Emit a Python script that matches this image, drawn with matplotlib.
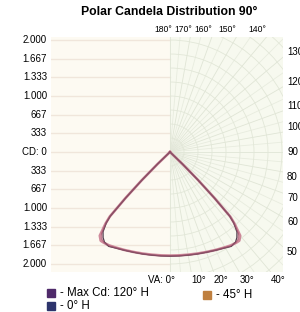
import numpy as np
import matplotlib
matplotlib.use("Agg")
import matplotlib.pyplot as plt
from matplotlib.patches import Rectangle, Circle

plt.rcParams['font.family'] = ['Liberation Sans', 'DejaVu Sans']

# vertical angles (deg from nadir) and candela values per plane
angles = [0, 5, 10, 15, 20, 25, 30, 33, 36, 38, 40, 42, 43, 44, 45, 46, 47, 50, 60, 70, 80, 90]
cd_max = [1850, 1853, 1862, 1878, 1900, 1930, 1965, 1990, 2005, 2010, 1950, 1720, 1580, 1150, 720, 320, 0, 0, 0, 0, 0, 0]
cd_0h = [1860, 1862, 1870, 1885, 1905, 1935, 1975, 2010, 1990, 1940, 1860, 1700, 1560, 1130, 700, 300, 0, 0, 0, 0, 0, 0]
cd_45h = [1855, 1858, 1866, 1882, 1902, 1932, 1970, 2000, 1998, 1975, 1900, 1710, 1570, 1140, 710, 310, 0, 0, 0, 0, 0, 0]

cd_ticks = [2000, 1667, 1333, 1000, 667, 333]
cd_labels = ["2.000", "1.667", "1.333", "1.000", "667", "333"]
top_angles = [180, 170, 160, 150, 140]
right_angles = [130, 120, 110, 100, 90, 80, 70, 60, 50]
bottom_angles = [10, 20, 30, 40]

series_names = ["- Max Cd: 120° H", "- 0° H", "- 45° H"]
legend_colors = ["#4f2a6a", "#2d346c", "#bf8040"]

PX = 17.86  # candela per pixel
x0, x1 = -2125, 2018
y0, y1 = -2143, 2054

fig = plt.figure(figsize=(3.0, 3.12), dpi=100)
ax = fig.add_axes([51 / 300, 1 - 272 / 312, 232 / 300, 235 / 312])
ax.set_xlim(x0, x1)
ax.set_ylim(y0, y1)
ax.axis("off")

# backgrounds
ax.add_patch(Rectangle((x0, y0), -x0, y1 - y0, color="#fdfaf2", zorder=0))
right_bg = Rectangle((0, y0), x1, y1 - y0, color="#f7f9ef", zorder=0)
ax.add_patch(right_bg)

# left half: horizontal lines
for v in cd_ticks:
    for s in (1, -1):
        ax.plot([x0, 0], [s * v, s * v], color="#f0e6db", lw=1.0, zorder=1)
ax.plot([x0, 0], [0, 0], color="#f0e6db", lw=1.0, zorder=1)

# right half: polar grid
for a in range(0, 181, 5):
    t = np.radians(a)
    ln, = ax.plot([0, 4000 * np.sin(t)], [0, -4000 * np.cos(t)],
                  color="#e8ecdf" if a % 10 else "#e0e5d6", lw=0.6, zorder=1)
    ln.set_clip_path(right_bg)
for r in range(250, 3100, 250):
    c = Circle((0, 0), r, fill=False, ec="#e2e7d8", lw=0.6, zorder=1)
    ax.add_patch(c)
    c.set_clip_path(right_bg)

# curves, mirrored on both sides
th = np.radians(angles)
styles = [("#c46e86", 1.9, 0.8), ("#4e3f4e", 0.9, 1.0), ("#a85570", 1.0, 0.7)]
for vals, (col, lw, al) in zip([cd_max, cd_0h, cd_45h], styles):
    r = np.array(vals, dtype=float)
    xs = np.concatenate([-r[::-1] * np.sin(th[::-1]), r * np.sin(th)])
    ys = np.concatenate([-r[::-1] * np.cos(th[::-1]), -r * np.cos(th)])
    ax.plot(xs, ys, color=col, lw=lw, alpha=al, zorder=3, solid_joinstyle="round")

fs = 7
# left candela labels
for v, lab in zip(cd_ticks, cd_labels):
    ax.text(x0 - 4 * PX, v, lab, ha="right", va="center", fontsize=fs, clip_on=False)
    ax.text(x0 - 4 * PX, -v, lab, ha="right", va="center", fontsize=fs, clip_on=False)
ax.text(x0 - 4 * PX, 0, "CD: 0", ha="right", va="center", fontsize=fs, clip_on=False)

# top angle labels
for a in top_angles:
    x = y1 * np.tan(np.radians(180 - a))
    shift = 2 * PX if a in (180, 170) else 0
    ax.text(x + shift, y1 + 3 * PX, f"{a}°", ha="right", va="bottom",
            fontsize=6.2, clip_on=False)

# right angle labels
for a in right_angles:
    y = -x1 / np.tan(np.radians(a)) if a != 90 else 0
    va = "center" if a == 90 else ("top" if a < 90 else "bottom")
    ax.text(x1 + 4 * PX, y, f"{a}", ha="left", va=va, fontsize=fs, clip_on=False)

# bottom angle labels
ax.text(5 * PX, y0 - 3 * PX, "VA: 0°", ha="right", va="top", fontsize=fs, clip_on=False)
for a in bottom_angles:
    x = -y0 * np.tan(np.radians(a))
    ax.text(x, y0 - 3 * PX, f"{a}°", ha="left", va="top", fontsize=fs, clip_on=False)

fig.text(169 / 300, 1 - 12 / 312, "Polar Candela Distribution 90°", ha="center", va="center",
         fontsize=8.8, fontweight="bold")

# legend
leg_pos = [(47, 289), (47, 302), (203, 291)]
for (lx, ly), name, col in zip(leg_pos, series_names, legend_colors):
    fig.patches.append(Rectangle((lx / 300, 1 - (ly + 8) / 312), 8 / 300, 8 / 312,
                                 transform=fig.transFigure, color=col, figure=fig))
    fig.text((lx + 13) / 300, 1 - (ly + 4) / 312, name, ha="left", va="center", fontsize=8.3)

fig.savefig("out.png", dpi=100, facecolor="white")
